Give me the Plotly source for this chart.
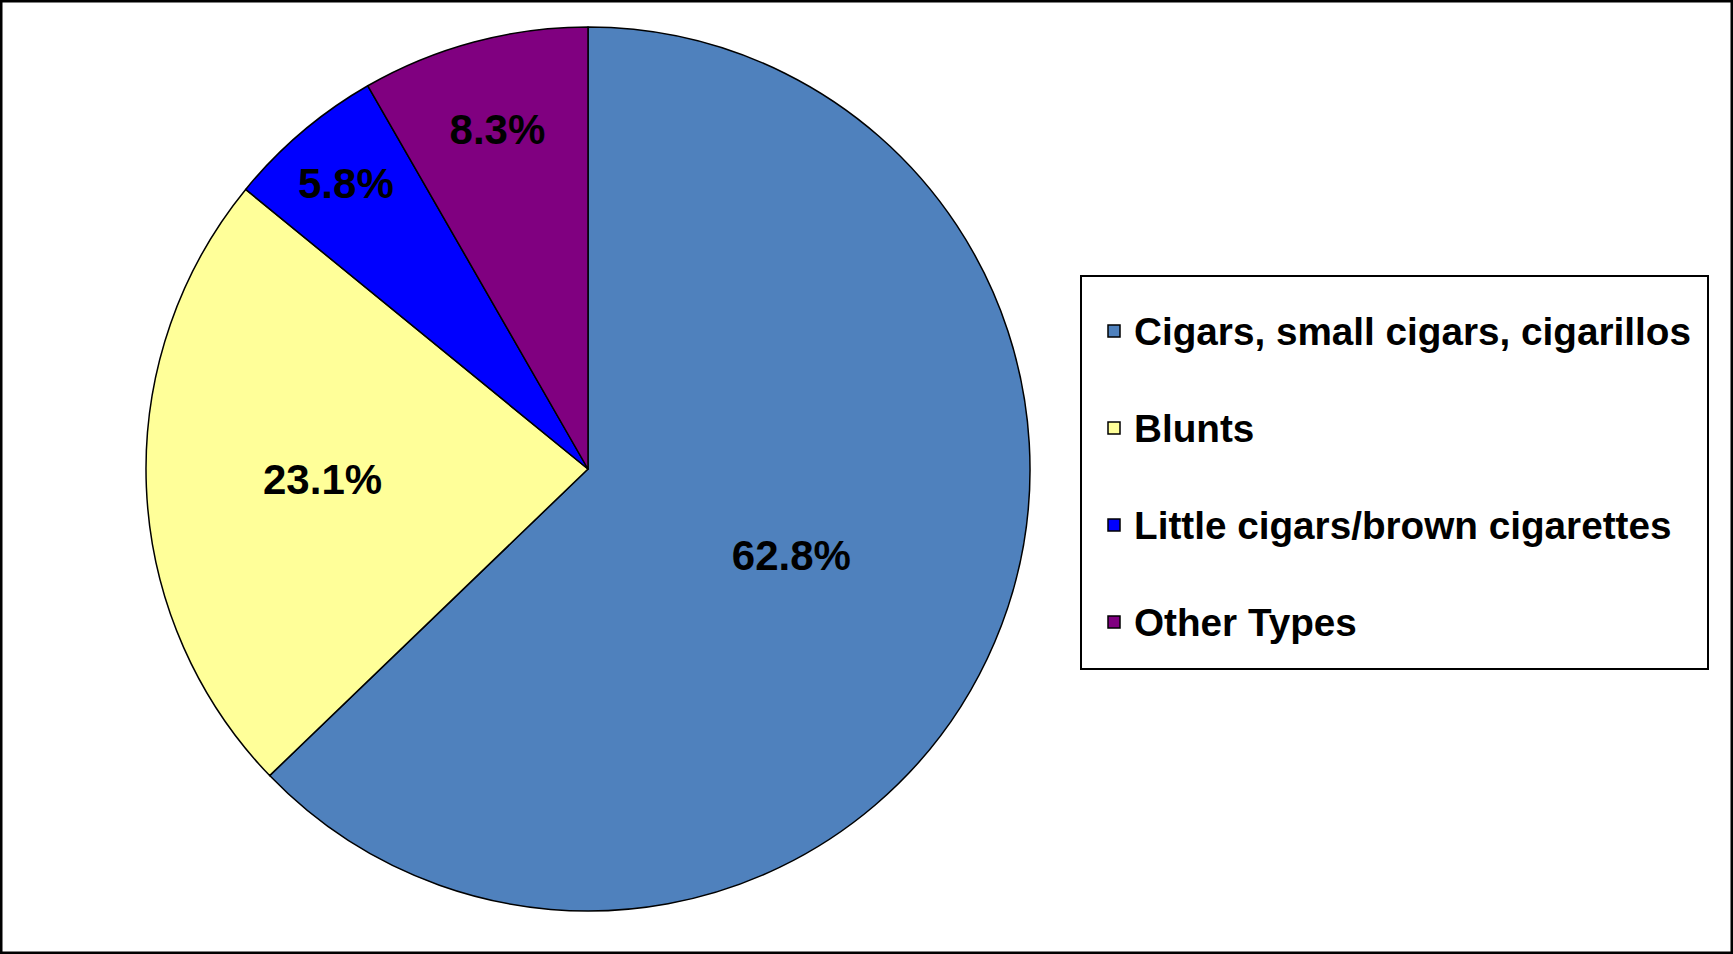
import plotly.graph_objects as go

categories = ["Cigars, small cigars, cigarillos", "Blunts",
              "Little cigars/brown cigarettes", "Other Types"]
shares = [62.8, 23.1, 5.8, 8.3]
colors = ["#4F81BD", "#FFFF99", "#0000FF", "#800080"]

W, H = 1733, 954
FONT = "Liberation Sans, Arial, sans-serif"

# legend entries: larger text, plus a blank second line to open up row spacing
legend_labels = ['<span style="font-size:38.7px">' + c + "</span><br> "
                 for c in categories]

fig = go.Figure(go.Pie(
    labels=legend_labels,
    values=shares,
    sort=False,
    direction="clockwise",
    rotation=0,
    marker=dict(colors=colors, line=dict(color="black", width=1.5)),
    texttemplate="%{percent:.1%}",
    textposition="inside",
    insidetextorientation="horizontal",
    textfont=dict(family=FONT, size=42, color="black", weight="bold"),
    domain=dict(x=[146 / W, 1030 / W], y=[(H - 911) / H, (H - 27) / H]),
    hoverinfo="percent",
))

fig.update_layout(
    width=W, height=H,
    margin=dict(l=0, r=0, t=0, b=0),
    paper_bgcolor="white",
    showlegend=True,
    legend=dict(
        x=1094 / W, xanchor="left",
        y=1 - 301 / H, yanchor="top",
        bgcolor="rgba(0,0,0,0)",
        borderwidth=0,
        font=dict(family=FONT, size=36.15, color="black", weight="bold"),
        valign="top",
        itemwidth=30,
    ),
    shapes=[
        dict(type="rect", xref="paper", yref="paper",
             x0=0, x1=1, y0=0, y1=1,
             line=dict(color="black", width=5), layer="above"),
        dict(type="rect", xref="paper", yref="paper",
             x0=1081 / W, x1=1708 / W, y0=1 - 669 / H, y1=1 - 276 / H,
             line=dict(color="black", width=2), fillcolor="white",
             layer="below"),
    ],
)

fig.write_html("out.html")
